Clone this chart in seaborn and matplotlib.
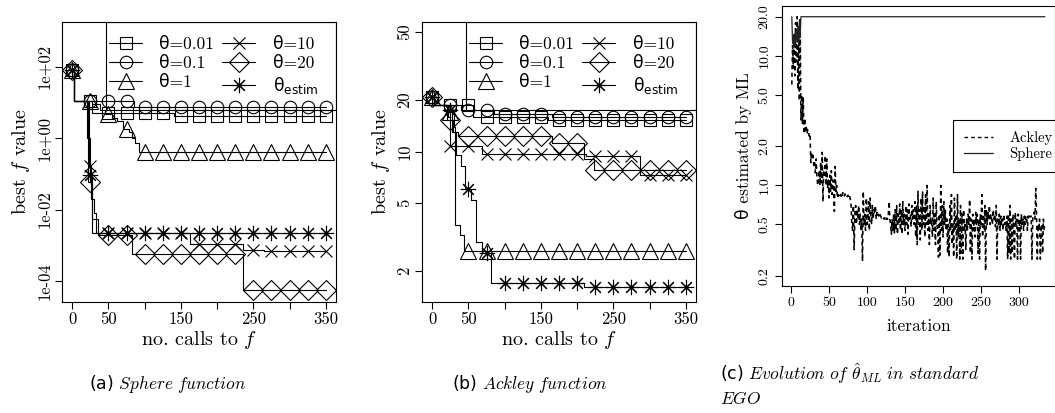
import numpy as np
import matplotlib
matplotlib.use("Agg")
import matplotlib.pyplot as plt
import seaborn as sns
from matplotlib.lines import Line2D
from matplotlib.patches import Rectangle

# ---------------- data ----------------
CALLS_MAX = 350
marker_calls = [0, 25, 50, 75, 100, 125, 150, 175, 200, 225, 250, 275, 300, 325, 350]
theta_labels = ["θ=0.01", "θ=0.1", "θ=1", "θ=10", "θ=20", r"$\mathrm{\theta}_{\mathrm{estim}}$"]
theta_markers = ["s", "o", "^", "x", "D", (8, 2, 0)]
theta_msizes = [8, 9, 12, 9, 10, 11]

# Sphere: best f value, step change points (calls, value)
sph_001_x = [0, 3, 28, 140]
sph_001_y = [81, 11, 5.0, 4.1]
sph_01_x = [0, 3, 85]
sph_01_y = [81, 11, 7.4]
sph_1_x = [0, 3, 28, 38, 46, 55, 62, 70, 78, 82, 87, 92]
sph_1_y = [81, 11, 9.0, 6.2, 4.7, 3.6, 3.0, 1.8, 1.5, 1.0, 0.72, 0.42]
sph_10_x = [0, 3, 23, 26, 30, 33, 162, 236, 265]
sph_10_y = [81, 11, 0.17, 0.02, 0.008, 0.0022, 0.0011, 0.00075, 0.00068]
sph_20_x = [0, 3, 22, 27, 35, 82, 236]
sph_20_y = [81, 11, 0.06, 0.0055, 0.0019, 0.00058, 5.6e-5]
sph_est_x = [0, 3, 21, 24, 28]
sph_est_y = [81, 11, 1.0, 0.093, 0.0022]

# Ackley: best f value, step change points (calls, value)
ack_001_x = [0, 3, 57, 160]
ack_001_y = [20.9, 18.7, 15.9, 15.2]
ack_01_x = [0, 3, 40, 85, 165]
ack_01_y = [20.9, 18.7, 17.5, 16.6, 16.0]
ack_1_x = [0, 3, 22, 30, 32, 38, 44]
ack_1_y = [20.9, 18.7, 17.0, 14.0, 3.7, 3.25, 2.62]
ack_10_x = [0, 3, 22, 24, 69, 212, 287]
ack_10_y = [20.9, 18.7, 16.0, 10.8, 9.7, 9.4, 7.3]
ack_20_x = [0, 3, 20, 29, 36, 166, 210, 223]
ack_20_y = [20.9, 18.7, 15.3, 13.0, 12.3, 11.25, 9.1, 7.8]
ack_est_x = [0, 3, 22, 28, 33, 40, 45, 53, 60, 69, 81, 209]
ack_est_y = [20.9, 18.7, 17.5, 13.0, 9.5, 8.2, 6.0, 5.2, 2.97, 2.54, 1.70, 1.62]

# theta estimated by ML along the iterations
ackley_theta = [
    6.0, 12.0, 8.0, 15.0, 7.0, 18.0, 9.0, 20.0, 5.5, 16.0, 4.5, 19.0,
    3.2, 5.0, 3.0, 4.8, 2.5, 3.3, 2.6, 2.8, 2.5, 2.7, 2.6, 2.4,
    2.5, 1.5, 1.8, 1.6, 1.7, 1.4, 1.5, 1.25, 1.6, 1.2, 1.0, 1.1,
    1.3, 1.0, 1.5, 1.05, 1.8, 0.75, 1.3, 1.2, 1.7, 1.0, 1.6, 0.95,
    1.1, 0.8, 1.2, 0.9, 1.3, 0.85, 1.1, 1.0, 0.63, 1.4, 0.9, 1.0,
    0.8, 0.85, 0.8, 0.82, 0.85, 0.83, 0.8, 0.88, 0.84, 0.82, 0.86, 0.83,
    0.85, 0.82, 0.84, 0.8, 0.83, 0.78, 0.7, 0.5, 0.45, 0.7, 0.32, 0.6,
    0.7, 0.5, 0.65, 0.55, 0.7, 0.5, 0.6, 0.45, 0.55, 0.26, 0.9, 0.5,
    0.6, 0.45, 0.8, 0.5, 0.55, 0.75, 0.45, 0.8, 0.6, 0.5, 0.7, 0.55,
    0.65, 0.6, 0.7, 0.55, 0.62, 0.58, 0.6, 0.57, 0.6, 0.58, 0.56, 0.57,
    0.55, 0.56, 0.55, 0.57, 0.54, 0.56, 0.55, 0.6, 0.75, 0.55, 0.5, 0.42,
    0.55, 0.45, 0.6, 0.43, 0.65, 0.45, 0.7, 0.42, 0.6, 0.5, 0.72, 0.45,
    0.65, 0.42, 0.75, 0.5, 0.6, 0.45, 0.7, 0.5, 0.65, 0.42, 0.72, 0.55,
    0.6, 0.48, 0.7, 0.55, 0.65, 0.5, 0.75, 0.4, 0.7, 0.35, 0.9, 0.5,
    0.65, 0.38, 0.8, 0.45, 0.9, 0.5, 0.7, 0.4, 0.85, 0.5, 1.0, 0.45,
    0.6, 0.35, 0.7, 0.5, 0.55, 0.4, 0.8, 0.45, 0.6, 0.35, 0.75, 0.5,
    0.45, 0.28, 0.6, 0.29, 1.0, 0.45, 0.7, 0.4, 0.75, 0.5, 0.65, 0.45,
    0.55, 0.3, 0.5, 0.28, 0.7, 0.45, 0.85, 0.35, 0.5, 0.28, 0.8, 0.45,
    0.6, 0.27, 0.85, 0.4, 0.55, 0.27, 0.7, 0.3, 0.6, 0.27, 0.65, 0.45,
    0.5, 0.32, 0.55, 0.45, 0.6, 0.5, 0.78, 0.3, 0.55, 0.27, 0.6, 0.45,
    0.55, 0.4, 0.62, 0.5, 0.6, 0.3, 0.55, 0.27, 0.6, 0.5, 0.85, 0.4,
    0.6, 0.45, 0.7, 0.22, 0.65, 0.5, 0.62, 0.55, 0.7, 0.5, 0.6, 0.55,
    0.5, 0.65, 0.55, 0.6, 0.48, 0.7, 0.27, 0.55, 0.5, 0.6, 0.45, 0.58,
    0.5, 0.55, 0.45, 0.6, 0.5, 0.52, 0.45, 0.58, 0.27, 0.6, 0.3, 0.7,
    0.27, 0.55, 0.3, 0.6, 0.45, 0.27, 0.62, 0.5, 0.55, 0.27, 0.6, 0.45,
    0.55, 0.27, 0.6, 0.5, 0.55, 0.45, 0.58, 0.5, 0.57, 0.58, 0.45, 0.58,
    0.55, 0.58, 0.57, 0.58, 0.27, 0.55, 0.6, 0.62, 0.55, 0.95, 0.6, 0.27,
    0.5, 0.45, 0.55, 0.27, 0.45, 0.5, 0.3, 0.55, 0.45, 0.48,
]
ackley_iter = list(range(1, len(ackley_theta) + 1))
sphere_iter = [1, 2, 3, 4, 5, 6, 7, 8, 9, 10, 11, 12, 13, 334]
sphere_theta = [20, 12.5, 14, 11.5, 15, 12, 16, 13, 17, 12, 19, 14, 20, 20]

# ---------------- style ----------------
sns.set_theme(style="ticks")
plt.rcParams.update({
    "font.family": ["cmr10", "DejaVu Sans"],
    "axes.formatter.use_mathtext": True,
    "axes.edgecolor": "black",
    "axes.linewidth": 0.8,
    "axes.facecolor": "white",
    "figure.facecolor": "white",
    "xtick.color": "black",
    "ytick.color": "black",
    "xtick.major.size": 5,
    "ytick.major.size": 5,
    "xtick.major.width": 0.8,
    "ytick.major.width": 0.8,
    "xtick.minor.size": 0,
    "ytick.minor.size": 0,
    "text.color": "black",
    "axes.labelcolor": "black",
})

W, H = 1055, 413
fig = plt.figure(figsize=(W / 100, H / 100), dpi=100)


def add_ax(left, top, right, bottom):
    return fig.add_axes([left / W, 1 - bottom / H, (right - left) / W, (bottom - top) / H])


axA = add_ax(62, 22, 336, 302)
axB = add_ax(422, 22, 696, 302)
axC = add_ax(781.7, 6, 1055, 286)


def draw_steps(ax, bx, by, marker, ms):
    xs = list(bx) + [CALLS_MAX]
    ys = list(by) + [by[-1]]
    sns.lineplot(x=xs, y=ys, ax=ax, drawstyle="steps-post", color="black",
                 lw=0.8, estimator=None, sort=False)
    idx = np.searchsorted(np.asarray(bx), np.asarray(marker_calls), side="right") - 1
    my = np.asarray(by, dtype=float)[idx]
    sns.lineplot(x=marker_calls, y=my, ax=ax, color="black", linestyle="",
                 marker=marker, ms=ms, mfc="none", mec="black", mew=0.8,
                 estimator=None, sort=False)


def setup_f_axes(ax, series, ylim, yticks, ylabels):
    for (bx, by), mk, ms in zip(series, theta_markers, theta_msizes):
        draw_steps(ax, bx, by, mk, ms)
    ax.set_yscale("log")
    ax.set_xlim(-14, 364)
    ax.set_ylim(*ylim)
    ax.set_xticks([0, 50, 100, 150, 200, 250, 300, 350])
    ax.set_xticklabels(["0", "50", "", "150", "", "250", "", "350"])
    ax.set_yticks(yticks)
    ax.set_yticklabels(ylabels)
    ax.minorticks_off()
    ax.tick_params(axis="both", labelsize=12, pad=2, direction="out")
    for lab in ax.get_yticklabels():
        lab.set_rotation(90)
        lab.set_va("center")
        lab.set_ha("right")
    for s in ax.spines.values():
        s.set_visible(True)
        s.set_color("black")
    ax.set_xlabel("no. calls to $f$", fontsize=14.5, math_fontfamily="cm")
    ax.set_ylabel("best $f$ value", fontsize=14.5, math_fontfamily="cm")
    ax.xaxis.set_label_coords(0.5, -0.095)
    ax.yaxis.set_label_coords(-0.11, 0.5)
    # legend box (R style, transparent)
    ax.add_patch(Rectangle((0.16, 0.686), 0.84, 0.314, transform=ax.transAxes,
                           fill=False, edgecolor="black", lw=0.8, zorder=5))
    handles = [Line2D([], [], color="black", lw=0.8, marker=mk, ms=ms, mfc="none",
                      mec="black", mew=0.8)
               for mk, ms in zip(theta_markers, theta_msizes)]
    ax.legend(handles, theta_labels, ncol=2, loc="center left",
              bbox_to_anchor=(0.172, 0.843), frameon=False,
              borderaxespad=0, borderpad=0, handlelength=1.9,
              handletextpad=1.0, columnspacing=0.45, labelspacing=0.22,
              prop={"family": ["cmr10", "DejaVu Sans"], "size": 12.5})


setup_f_axes(axA,
             [(sph_001_x, sph_001_y), (sph_01_x, sph_01_y), (sph_1_x, sph_1_y),
              (sph_10_x, sph_10_y), (sph_20_x, sph_20_y), (sph_est_x, sph_est_y)],
             (10 ** -4.59, 10 ** 3.25), [1e2, 1, 1e-2, 1e-4],
             ["1e+02", "1e+00", "1e-02", "1e-04"])
setup_f_axes(axB,
             [(ack_001_x, ack_001_y), (ack_01_x, ack_01_y), (ack_1_x, ack_1_y),
              (ack_10_x, ack_10_y), (ack_20_x, ack_20_y), (ack_est_x, ack_est_y)],
             (1.318, 57.2), [2, 5, 10, 20, 50], ["2", "5", "10", "20", "50"])

# ---------------- panel c ----------------
sns.lineplot(x=ackley_iter, y=ackley_theta, ax=axC, color="black", lw=1.15,
             linestyle=(0, (2.6, 2.2)), estimator=None, sort=False)
sns.lineplot(x=sphere_iter, y=sphere_theta, ax=axC, color="#222222", lw=0.9,
             estimator=None, sort=False)
axC.set_yscale("log")
axC.set_xlim(-12.3, 347.3)
axC.set_ylim(0.1676, 24.2)
axC.set_xticks([0, 50, 100, 150, 200, 250, 300])
axC.set_xticklabels(["0", "50", "100", "150", "200", "250", "300"])
axC.set_yticks([0.2, 0.5, 1, 2, 5, 10, 20])
axC.set_yticklabels(["0.2", "0.5", "1.0", "2.0", "5.0", "10.0", "20.0"])
axC.minorticks_off()
axC.tick_params(axis="both", labelsize=10, pad=3, direction="out")
for lab in axC.get_yticklabels():
    lab.set_rotation(90)
    lab.set_va("center")
    lab.set_ha("right")
for s in axC.spines.values():
    s.set_visible(True)
    s.set_color("black")
axC.set_xlabel("iteration", fontsize=12.5)
axC.set_ylabel("θ estimated by ML", fontsize=12.5)
axC.xaxis.set_label_coords(0.5, -0.115)
axC.yaxis.set_label_coords(-0.11, 0.5)
axC.add_patch(Rectangle((0.627, 0.407), 0.4, 0.186, transform=axC.transAxes,
                        fill=False, edgecolor="black", lw=0.8, zorder=5, clip_on=False))
hc = [Line2D([], [], color="black", lw=1.0, linestyle=(0, (2.6, 2.2))),
      Line2D([], [], color="#222222", lw=0.9)]
axC.legend(hc, ["Ackley", "Sphere"], loc="center left",
           bbox_to_anchor=(0.668, 0.5), frameon=False,
           borderaxespad=0, borderpad=0, handlelength=2.0,
           handletextpad=1.1, labelspacing=0.15,
           prop={"family": ["cmr10", "DejaVu Sans"], "size": 10.5})

# ---------------- captions ----------------
fig.text(168 / W, 1 - 384 / H, r"(a) $Sphere\ function$", ha="center", va="center",
         family="DejaVu Sans", fontsize=12.5, math_fontfamily="cm")
fig.text(530 / W, 1 - 384 / H, r"(b) $Ackley\ function$", ha="center", va="center",
         family="DejaVu Sans", fontsize=12.5, math_fontfamily="cm")
fig.text(720 / W, 1 - 374 / H, r"(c) $Evolution\ of\ \hat{\theta}_{ML}\ in\ standard$",
         ha="left", va="center", family="DejaVu Sans", fontsize=12.5, math_fontfamily="cm")
fig.text(720 / W, 1 - 399 / H, r"$EGO$", ha="left", va="center",
         family="DejaVu Sans", fontsize=12.5, math_fontfamily="cm")

fig.savefig("out.png", dpi=100)
